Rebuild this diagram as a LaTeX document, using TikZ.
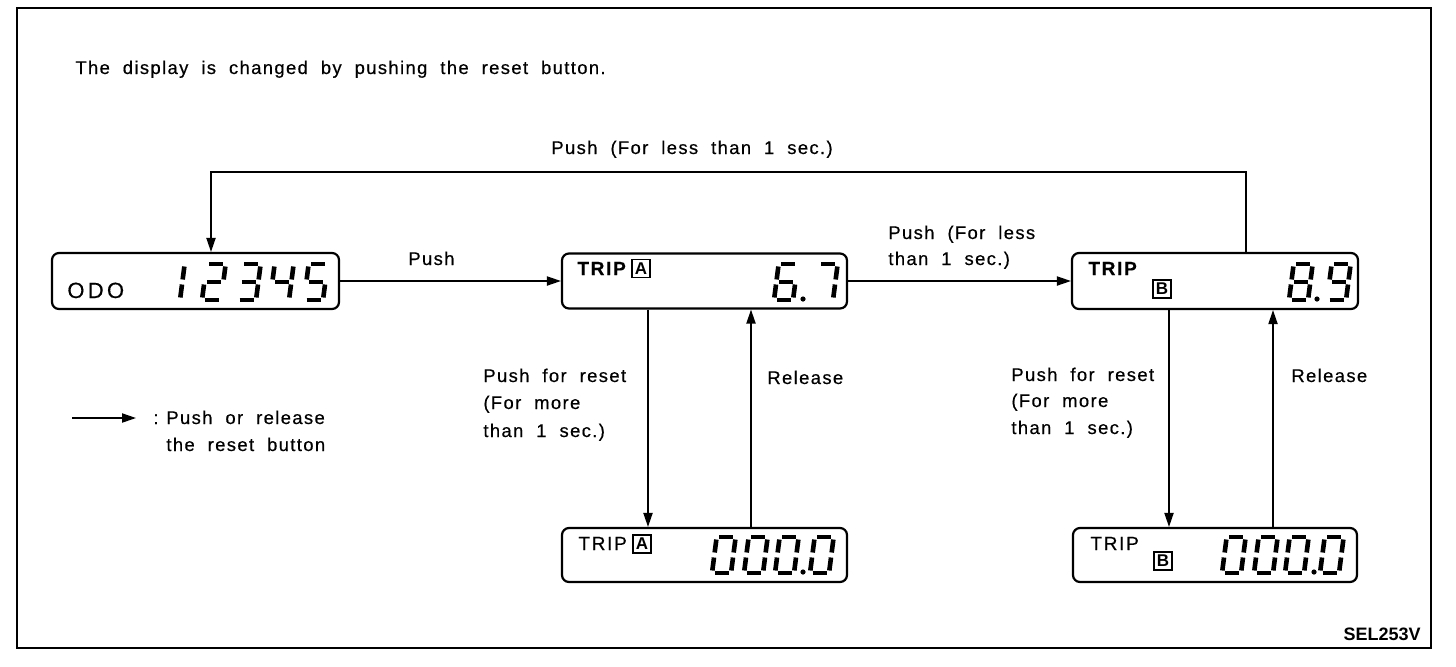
\documentclass[tikz,border=0pt]{standalone}
\usepackage{fontspec}
\setmainfont{Liberation Sans}
\newfontfamily\lblfont{Liberation Sans}[LetterSpace=7.5,WordSpace=2,FakeBold=0.5]
\newfontfamily\odofont{Liberation Sans}[LetterSpace=15,FakeBold=0.5]
\newfontfamily\tripfont{Liberation Sans}[LetterSpace=9,FakeBold=0.4]
\usetikzlibrary{arrows.meta}
\tikzset{
  lbl/.style={font=\lblfont\fontsize{9.2pt}{13.5pt}\selectfont, inner sep=0pt, anchor=base west},
  disp/.style={draw, line width=1.1pt, rounded corners=3.5pt, inner sep=0pt},
  arr/.style={line width=0.7pt, -{Triangle[length=7pt,width=4.6pt]}},
  seg/.style={line width=2.3pt, line cap=butt},
  boxlet/.style={draw, line width=0.8pt, minimum size=9pt, inner sep=0pt, font=\fontsize{8.5pt}{9pt}\selectfont\bfseries},
  triptxt/.style={font=\tripfont\fontsize{9.5pt}{10pt}\selectfont, inner sep=0pt, anchor=base west},
}
\newcommand\segA{\draw[seg] (2.5,36)--(16.5,36);}
\newcommand\segB{\draw[seg] (19,33.5)--(19,20.5);}
\newcommand\segC{\draw[seg] (19,15.5)--(19,2.5);}
\newcommand\segD{\draw[seg] (2.5,0)--(16.5,0);}
\newcommand\segE{\draw[seg] (0,15.5)--(0,2.5);}
\newcommand\segF{\draw[seg] (0,33.5)--(0,20.5);}
\newcommand\segG{\draw[seg] (2.5,18)--(16.5,18);}
\newcommand\sevdig[3]{\begin{scope}[shift={(#1,#2)},x=0.5pt,y=0.5pt,xslant=0.13]\foreach \s in {#3}{\csname seg\s\endcsname}\end{scope}}
\begin{document}
\begin{tikzpicture}[x=0.5pt,y=-0.5pt]
\useasboundingbox (0,0) rectangle (1456,666);
\draw[line width=1pt] (17,8) rectangle (1431,648);

% display boxes
\node[disp, minimum width=143.5pt, minimum height=28pt] (odo) at (195.5,281) {};
\node[disp, minimum width=142.5pt, minimum height=27.5pt] (ta) at (704.5,281) {};
\node[disp, minimum width=143pt, minimum height=28pt] (tb) at (1215,281) {};
\node[disp, minimum width=142.5pt, minimum height=27pt] (ta0) at (704.5,555) {};
\node[disp, minimum width=142pt, minimum height=27pt] (tb0) at (1215,555) {};

% display texts
\node[font=\odofont\fontsize{11pt}{12pt}\selectfont, inner sep=0pt, anchor=base west] (odt) at (67,298) {ODO};
\node[triptxt, font=\tripfont\fontsize{9.5pt}{10pt}\selectfont\bfseries] (trA) at (577,275) {TRIP};
\node[triptxt, font=\tripfont\fontsize{9.5pt}{10pt}\selectfont\bfseries] (trB) at (1088,275) {TRIP};
\node[triptxt] (trA0) at (578,550) {TRIP};
\node[triptxt] (trB0) at (1090,550) {TRIP};
\node[boxlet] (bA) at (641,268.5) {A};
\node[boxlet] (bB) at (1162,289) {B};
\node[boxlet] (bA0) at (642,544) {A};
\node[boxlet] (bB0) at (1163,561) {B};

% digits: 12345
\sevdig{161}{300}{B,C}
\sevdig{202}{300}{A,B,G,E,D}
\sevdig{237}{300}{A,B,G,C,D}
\sevdig{270}{300}{F,G,B,C}
\sevdig{304}{300}{A,F,G,C,D}
% 6.7
\sevdig{774}{300}{A,F,G,E,C,D}
\fill (803,299) circle [radius=2.6];
\sevdig{814}{300}{A,B,C}
% 8.9
\sevdig{1289}{300}{A,B,C,D,E,F,G}
\fill (1317,299) circle [radius=2.6];
\sevdig{1327}{300}{A,B,C,D,F,G}
% 000.0 A
\sevdig{712}{573}{A,B,C,D,E,F}
\sevdig{744}{573}{A,B,C,D,E,F}
\sevdig{775}{573}{A,B,C,D,E,F}
\fill (803,572) circle [radius=2.6];
\sevdig{810}{573}{A,B,C,D,E,F}
% 000.0 B
\sevdig{1222}{573}{A,B,C,D,E,F}
\sevdig{1254}{573}{A,B,C,D,E,F}
\sevdig{1285}{573}{A,B,C,D,E,F}
\fill (1314,572) circle [radius=2.6];
\sevdig{1320}{573}{A,B,C,D,E,F}

% connectors
\coordinate (cR) at (1246,172);
\coordinate (cL) at (211,172);
\coordinate (xA1) at (648,0);
\coordinate (xA2) at (751,0);
\coordinate (xB1) at (1169,0);
\coordinate (xB2) at (1273,0);
\coordinate (lg1) at (72,418);
\coordinate (lg2) at (136,418);
\draw[arr] (odo) -- (ta);
\draw[arr] (ta) -- (tb);
\draw[arr] (tb.north -| cR) -- (cR) -- (cL) -- (odo.north -| cL);
\draw[arr] (ta.south -| xA1) -- (ta0.north -| xA1);
\draw[arr] (ta0.north -| xA2) -- (ta.south -| xA2);
\draw[arr] (tb.south -| xB1) -- (tb0.north -| xB1);
\draw[arr] (tb0.north -| xB2) -- (tb.south -| xB2);
\draw[arr] (lg1) -- (lg2);

% labels
\node[lbl] (t0) at (75,74) {The display is changed by pushing the reset button.};
\node[lbl] (tl) at (551,154) {Push (For less than 1 sec.)};
\node[lbl] (tp) at (408,265) {Push};
\node[lbl] (tq1) at (888,239) {Push (For less};
\node[lbl] (tq2) at (888,265) {than 1 sec.)};
\node[lbl] (ra1) at (483,382) {Push for reset};
\node[lbl] (ra2) at (483,409) {(For more};
\node[lbl] (ra3) at (483,437) {than 1 sec.)};
\node[lbl] (rl1) at (767,384) {Release};
\node[lbl] (rb1) at (1011,381) {Push for reset};
\node[lbl] (rb2) at (1011,407) {(For more};
\node[lbl] (rb3) at (1011,434) {than 1 sec.)};
\node[lbl] (rl2) at (1291,382) {Release};
\node[lbl] (lgc) at (153,424) {:};
\node[lbl] (lgt1) at (166,424) {Push or release};
\node[lbl] (lgt2) at (166,451) {the reset button};
\node[font=\fontsize{9pt}{10pt}\selectfont\bfseries, inner sep=0pt, anchor=base east] (sel) at (1421,640) {SEL253V};
\end{tikzpicture}
\end{document}
